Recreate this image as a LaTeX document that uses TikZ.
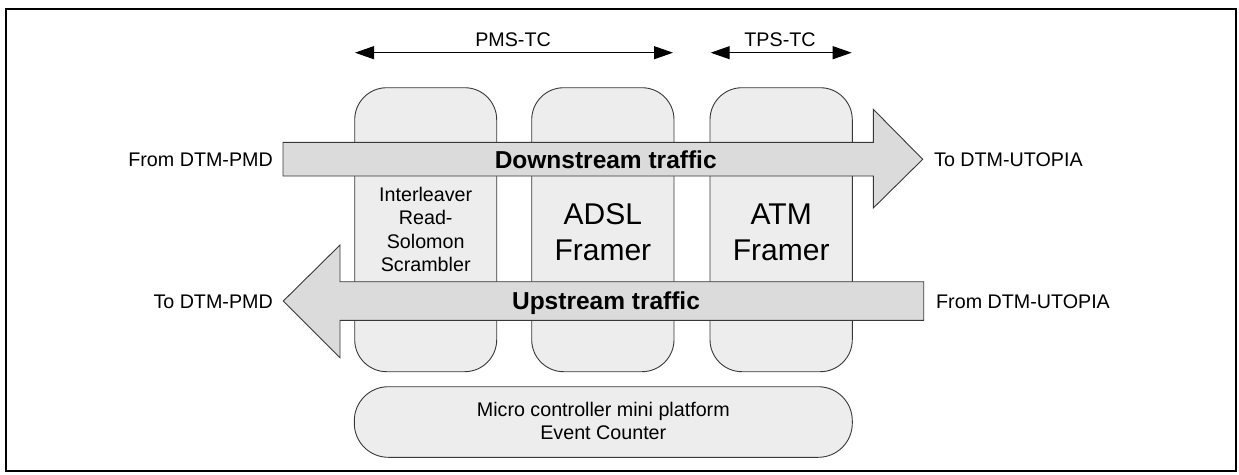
\documentclass[tikz,border=0pt]{standalone}
\usepackage{fontspec}
\setmainfont{Liberation Sans}
\usetikzlibrary{arrows.meta}
\begin{document}
\begin{tikzpicture}[x=1pt,y=-1pt,
  blk/.style={draw=black!78, fill=black!7, line width=0.9pt, rounded corners=32pt},
  flow/.style={draw=black!78, fill=black!14, line width=0.9pt},
  small/.style={inner sep=0pt, font=\fontsize{19.7}{23.3}\selectfont, align=center},
  big/.style={inner sep=0pt, font=\fontsize{30}{36.7}\selectfont, align=center},
  bold/.style={inner sep=0pt, font=\fontsize{24.5}{28}\selectfont\bfseries},
  dim/.style={line width=1pt, {Triangle[length=19pt,width=13pt]}-{Triangle[length=19pt,width=13pt]}}]
\useasboundingbox (0,0) rectangle (1239,474);
\draw[line width=2pt] (6,9) rectangle (1236,471);

% functional blocks
\draw[blk] (354.7,87.7) rectangle (496.7,371.7);
\draw[blk] (531.7,87.7) rectangle (674,371.7);
\draw[blk] (710,87.7) rectangle (852.3,371.7);
\draw[blk, rounded corners=34pt] (354.3,386.7) rectangle (852.3,457.3);

% traffic arrows
\draw[flow] (283,142.3) -- (873.3,142.3) -- (873.3,109.3) -- (922.7,159.3) -- (873.3,208) -- (873.3,176) -- (283,176) -- cycle;
\draw[flow] (923.7,281.7) -- (340,281.7) -- (340,245) -- (283.3,301) -- (340,357.7) -- (340,320.3) -- (923.7,320.3) -- cycle;

% texts
\node[small] (il) at (425.7,229.5) {Interleaver\\Read-\\Solomon\\Scrambler};
\node[big] (adsl) at (602.9,232.2) {ADSL\\Framer};
\node[big] (atm) at (781.2,232.2) {ATM\\Framer};
\node[small] (mc) at (603.3,421.3) {Micro controller mini platform\\Event Counter};

\node[bold, anchor=base] (ds) at (605.7,168.3) {Downstream traffic};
\node[bold, anchor=base] (us) at (606,309.3) {Upstream traffic};

\node[small, anchor=base east] (fpmd) at (273,166) {From DTM-PMD};
\node[small, anchor=base east] (tpmd) at (273,308) {To DTM-PMD};
\node[small, anchor=base west] (tut) at (934,166) {To DTM-UTOPIA};
\node[small, anchor=base west] (fut) at (936,308) {From DTM-UTOPIA};

% layer spans
\coordinate (pmsL) at (355,52.7);
\coordinate (pmsR) at (673,52.7);
\coordinate (tpsL) at (710.7,52.7);
\coordinate (tpsR) at (851.7,52.7);
\draw[dim] (pmsL) -- (pmsR);
\draw[dim] (tpsL) -- (tpsR);
\node[small, anchor=base] (pms) at (513,46) {PMS-TC};
\node[small, anchor=base] (tps) at (780,46) {TPS-TC};
\end{tikzpicture}
\end{document}
